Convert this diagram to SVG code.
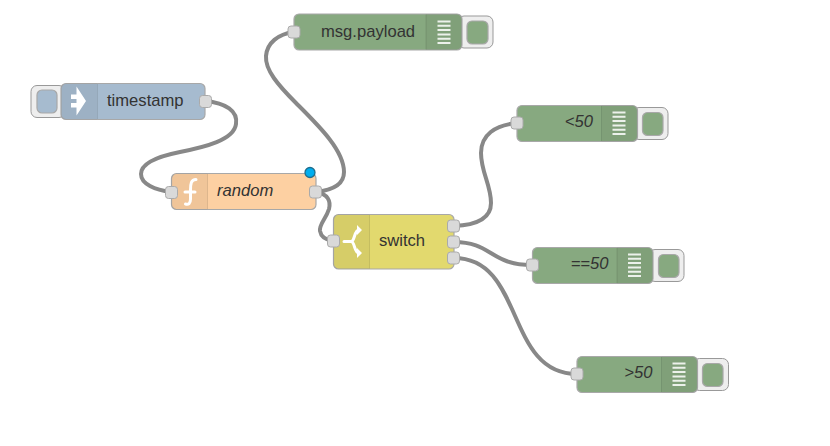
<svg xmlns="http://www.w3.org/2000/svg" width="830" height="446" viewBox="0 0 830 446">
<style>
.wire{fill:none;stroke:#888;stroke-width:4;stroke-linecap:round}
.body{stroke:#a8a8a8;stroke-width:1.2}
.shade{fill:#000;fill-opacity:.05}
.sep{stroke:#000;stroke-opacity:.1;stroke-width:1}
.port{fill:#d9d9d9;stroke:#aaa;stroke-width:1}
.btn{fill:#eee;stroke:#999;stroke-width:1}
.lbl{font-family:"Liberation Sans",Arial,sans-serif;font-size:16.600px;fill:#333;dominant-baseline:central}
.it{font-style:italic}
.ic{fill:none;stroke:#fff;stroke-linecap:round;stroke-linejoin:round}
.bar{stroke:#fff;stroke-width:2;stroke-opacity:.85}
.blue{fill:#a6bbcf}.green{fill:#87a980}.orange{fill:#fdd0a2}.yellow{fill:#e2d96e}
</style>
<defs>
<g id="debugBars"><path class="bar" d="M0 0h13M0 4.300h13M0 8.600h13M0 12.900h13M0 17.200h13M0 21.500h13"/></g>
</defs>
<g id="connectors">
<path class="wire" d="M205 101C226 103 238 111 236 124C234 140 205 147 180 152C155 157 141 164 141 174C141 184 155 190 171 192"/>
<path class="wire" d="M316 192C334 190 344 183 344 172C344 150 318 125 296 103C278 85 265 70 266 56C267 43 278 34 294 32"/>
<path class="wire" d="M316 192C328 194 331 201 329 209C326 219 319 224 320 231C321 237 326 240 333 241"/>
<path class="wire" d="M454 226C478 225 491 218 491 203C491 185 481 172 481 153C481 135 495 125 517 123"/>
<path class="wire" d="M454 242C492 242 490 265 532 265"/>
<path class="wire" d="M454 258C525 258 505 374 577 374"/>
</g>
<g id="timestamp">
<rect class="btn" x="31" y="85.500" width="34" height="32" rx="6"/>
<rect class="blue body" x="37" y="90" width="20" height="23" rx="5"/>
<rect class="blue body" x="61" y="83.500" width="144" height="36" rx="5"/>
<path class="shade" d="M66 83.500H97V119.500H66a5 5 0 0 1-5-5V88.500a5 5 0 0 1 5-5z"/>
<path class="sep" d="M97.500 84V119"/>
<path fill="#fff" d="M71 94.500h7v4.500h-7zM71 103h7v4.500h-7zM76.500 86.500l9.500 14.500-9.500 14.500z"/>
<text class="lbl" x="107" y="100">timestamp</text>
<rect class="port" x="199.500" y="95.500" width="12" height="12" rx="3"/>
</g>
<g id="random">
<rect class="orange body" x="171.500" y="173.500" width="144.500" height="36" rx="5"/>
<path class="shade" d="M176.500 173.500H207.500V209.500H176.500a5 5 0 0 1-5-5V178.500a5 5 0 0 1 5-5z"/>
<path class="sep" d="M207.500 174V209"/>
<path class="ic" stroke-width="3" d="M196 179.500C191 179.500 190.500 184 190.500 190V199C190.500 203.500 188.500 205 185.500 204M185 192H195"/>
<text class="lbl it" x="217" y="190">random</text>
<rect class="port" x="165.500" y="186.500" width="12" height="12" rx="3"/>
<rect class="port" x="309.500" y="186" width="12" height="12" rx="3"/>
<circle cx="310" cy="172.500" r="5" fill="#00aeef" stroke="#1f6d8c" stroke-width="1.300"/>
</g>
<g id="msg-payload">
<rect class="btn" x="458" y="16" width="35" height="32" rx="6"/>
<rect class="green body" x="467" y="21" width="21" height="23" rx="5"/>
<rect class="green body" x="294" y="14" width="168" height="36" rx="5"/>
<path class="shade" d="M426 14H457a5 5 0 0 1 5 5V45a5 5 0 0 1-5 5H426z"/>
<path class="sep" d="M426 14.500V49.500"/>
<use href="#debugBars" x="437.500" y="21.500"/>
<text class="lbl" x="321" y="31.500">msg.payload</text>
<rect class="port" x="288" y="26" width="12" height="12" rx="3"/>
</g>
<g id="switch">
<rect class="yellow body" x="333.500" y="214.500" width="120.500" height="54.500" rx="5"/>
<path class="shade" d="M338.500 214.500H369.500V269H338.500a5 5 0 0 1-5-5V219.500a5 5 0 0 1 5-5z"/>
<path class="sep" d="M369.500 215V268.500"/>
<path class="ic" stroke-width="3" d="M344 241.500H351C355 241.500 354 230 359 230M351 241.500C355 241.500 354 253 359 253"/>
<path fill="#fff" d="M357 225l5 5-5 5zM357 248l5 5-5 5z"/>
<text class="lbl" x="379" y="240">switch</text>
<rect class="port" x="327.500" y="235" width="12" height="12" rx="3"/>
<rect class="port" x="447.500" y="220" width="12" height="12" rx="3"/>
<rect class="port" x="447.500" y="236" width="12" height="12" rx="3"/>
<rect class="port" x="447.500" y="252" width="12" height="12" rx="3"/>
</g>
<g id="lt50">
<rect class="btn" x="633" y="107.500" width="35" height="32" rx="6"/>
<rect class="green body" x="642.500" y="112.500" width="20.500" height="23" rx="5"/>
<rect class="green body" x="517" y="105.500" width="120.500" height="36" rx="5"/>
<path class="shade" d="M601.500 105.500H632.500a5 5 0 0 1 5 5V136.500a5 5 0 0 1-5 5H601.500z"/>
<path class="sep" d="M601.500 106V141"/>
<use href="#debugBars" x="612.500" y="112.500"/>
<text class="lbl it" x="593" y="121" text-anchor="end">&lt;50</text>
<rect class="port" x="511" y="117" width="12" height="12" rx="3"/>
</g>
<g id="eq50">
<rect class="btn" x="649" y="249.500" width="35" height="32" rx="6"/>
<rect class="green body" x="658.500" y="254.500" width="20.500" height="23" rx="5"/>
<rect class="green body" x="532.500" y="247.500" width="120.500" height="36" rx="5"/>
<path class="shade" d="M617 247.500H648a5 5 0 0 1 5 5V278.500a5 5 0 0 1-5 5H617z"/>
<path class="sep" d="M617 248V283"/>
<use href="#debugBars" x="628" y="254.500"/>
<text class="lbl it" x="608.500" y="263" text-anchor="end">==50</text>
<rect class="port" x="526.500" y="259" width="12" height="12" rx="3"/>
</g>
<g id="gt50">
<rect class="btn" x="693.500" y="358.500" width="35" height="32" rx="6"/>
<rect class="green body" x="702.500" y="363.500" width="20.500" height="23" rx="5"/>
<rect class="green body" x="577" y="356.500" width="120.500" height="36" rx="5"/>
<path class="shade" d="M661.500 356.500H692.500a5 5 0 0 1 5 5V387.500a5 5 0 0 1-5 5H661.500z"/>
<path class="sep" d="M661.500 357V392"/>
<use href="#debugBars" x="672.500" y="363.500"/>
<text class="lbl it" x="652.500" y="372" text-anchor="end">&gt;50</text>
<rect class="port" x="571" y="368" width="12" height="12" rx="3"/>
</g>
</svg>
